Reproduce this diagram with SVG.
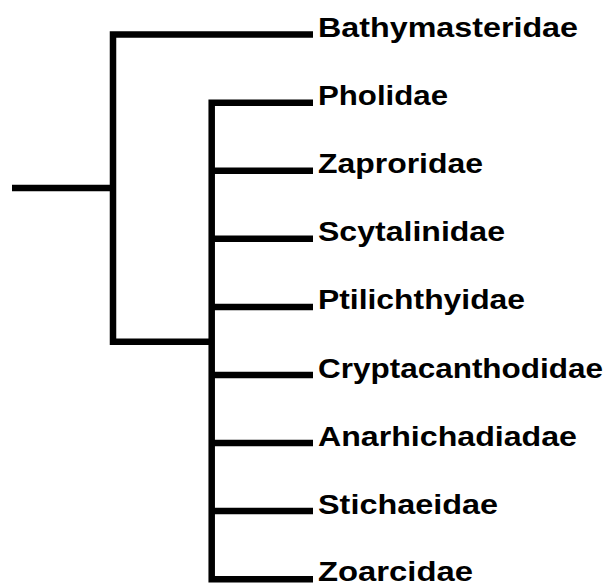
<svg xmlns="http://www.w3.org/2000/svg" width="612" height="584" viewBox="0 0 612 584">
<style>
.ln{fill:none;stroke:#000;stroke-width:6.5;stroke-linejoin:miter;stroke-linecap:butt}
.lb{font-family:"Liberation Sans",Arial,sans-serif;font-weight:bold;font-size:27px;fill:#000}
</style>
<rect width="612" height="584" fill="#fff"/>
<g id="connectors">
<path class="ln" d="M12 188H113"/>
<path class="ln" d="M313 34.5H113V341.7H211.7"/>
<path class="ln" d="M313 102.7H211.7V579.2H313"/>
<path class="ln" d="M211.7 170.8H313M211.7 238.8H313M211.7 306.9H313M211.7 375H313M211.7 443H313M211.7 511.1H313"/>
</g>
<g id="n-bathymasteridae"><text class="lb" x="318" y="37" textLength="260" lengthAdjust="spacingAndGlyphs">Bathymasteridae</text></g>
<g id="n-pholidae"><text class="lb" x="318" y="105.2" textLength="130" lengthAdjust="spacingAndGlyphs">Pholidae</text></g>
<g id="n-zaproridae"><text class="lb" x="318" y="173.3" textLength="165" lengthAdjust="spacingAndGlyphs">Zaproridae</text></g>
<g id="n-scytalinidae"><text class="lb" x="318" y="241.3" textLength="187" lengthAdjust="spacingAndGlyphs">Scytalinidae</text></g>
<g id="n-ptilichthyidae"><text class="lb" x="318" y="309.4" textLength="207" lengthAdjust="spacingAndGlyphs">Ptilichthyidae</text></g>
<g id="n-cryptacanthodidae"><text class="lb" x="318" y="377.5" textLength="285" lengthAdjust="spacingAndGlyphs">Cryptacanthodidae</text></g>
<g id="n-anarhichadiadae"><text class="lb" x="318" y="445.5" textLength="259" lengthAdjust="spacingAndGlyphs">Anarhichadiadae</text></g>
<g id="n-stichaeidae"><text class="lb" x="318" y="513.6" textLength="180" lengthAdjust="spacingAndGlyphs">Stichaeidae</text></g>
<g id="n-zoarcidae"><text class="lb" x="318" y="580.5" textLength="155" lengthAdjust="spacingAndGlyphs">Zoarcidae</text></g>
</svg>
